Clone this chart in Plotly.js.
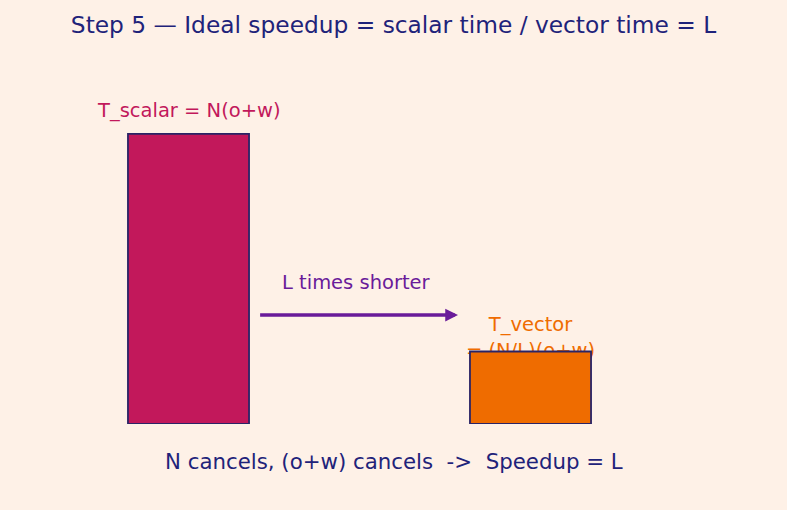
<!DOCTYPE html>
<html>
<head>
<meta charset="utf-8">
<script src="https://cdn.plot.ly/plotly-3.0.1.min.js"></script>
<style>html,body{margin:0;padding:0;background:#fef1e7;}#chart{width:787px;height:510px;}</style>
</head>
<body>
<div id="chart"></div>
<script>
// Data
const barPositions = [0, 1];
const barNames = ["T_scalar", "T_vector"];
const barValues = [4, 1];          // scalar time = L x vector time (L = 4)
const barColors = ["#c2185b", "#ef6c00"];
const scalarLabel = "T_scalar = N(o+w)";
const vectorLabel = "T_vector<br>= (N/L)(o+w)";
const arrowLabel = "L times shorter";
const footer = "N cancels, (o+w) cancels  ->  Speedup = L";
const titleText = "Step 5 — Ideal speedup = scalar time / vector time = L";

const FONT = "DejaVu Sans, sans-serif";
const navy = "#1f237a";
const purple = "#6a1b9a";

const xr = [-0.5512, 1.75];
const yr = [0, 5.02];

const axisHidden = {showgrid:false, zeroline:false, showticklabels:false, ticks:"", showline:false, fixedrange:true};

const data = [
  { // vector label text, drawn beneath the bars
    type: "scatter", mode: "text", x: [barPositions[1]], y: [1.168],
    text: [vectorLabel], textposition: "middle center",
    textfont: {family: FONT, size: 19.5, color: barColors[1]},
    hoverinfo: "skip", showlegend: false, xaxis: "x", yaxis: "y", cliponaxis: false
  },
  {
    type: "bar", x: barPositions, y: barValues, width: 0.354,
    marker: {color: barColors, line: {color: "#2a2466", width: 1.8}},
    hoverinfo: "skip", showlegend: false, xaxis: "x2", yaxis: "y2"
  }
];

const layout = {
  width: 787, height: 510,
  margin: {l: 0, r: 0, t: 60, b: 86},
  paper_bgcolor: "#fef1e7", plot_bgcolor: "#fef1e7",
  title: {text: titleText, x: 0.5, xanchor: "center", y: 0.952, yanchor: "middle",
          font: {family: FONT, size: 23.3, color: navy}},
  xaxis: Object.assign({range: xr}, axisHidden),
  yaxis: Object.assign({range: yr}, axisHidden),
  xaxis2: Object.assign({range: xr, overlaying: "x"}, axisHidden),
  yaxis2: Object.assign({range: yr, overlaying: "y"}, axisHidden),
  annotations: [
    {text: scalarLabel, x: barPositions[0], y: 4.33, xref: "x", yref: "y",
     showarrow: false, xanchor: "center", yanchor: "middle",
     font: {family: FONT, size: 19.5, color: barColors[0]}},
    {text: arrowLabel, x: 0.49, y: 1.95, xref: "x", yref: "y",
     showarrow: false, xanchor: "center", yanchor: "middle",
     font: {family: FONT, size: 19.5, color: purple}},
    {text: "", x: 0.788, y: 1.503, ax: 0.205, ay: 1.503, xref: "x", yref: "y", axref: "x", ayref: "y",
     showarrow: true, arrowhead: 2, arrowsize: 0.75, arrowwidth: 3.4, arrowcolor: purple, standoff: 0, startstandoff: 0},
    {text: footer, x: 0.5, y: -0.104, xref: "paper", yref: "paper",
     showarrow: false, xanchor: "center", yanchor: "middle",
     font: {family: FONT, size: 21.3, color: navy}}
  ]
};

Plotly.newPlot("chart", data, layout, {displayModeBar: false, staticPlot: true});
</script>
</body>
</html>
